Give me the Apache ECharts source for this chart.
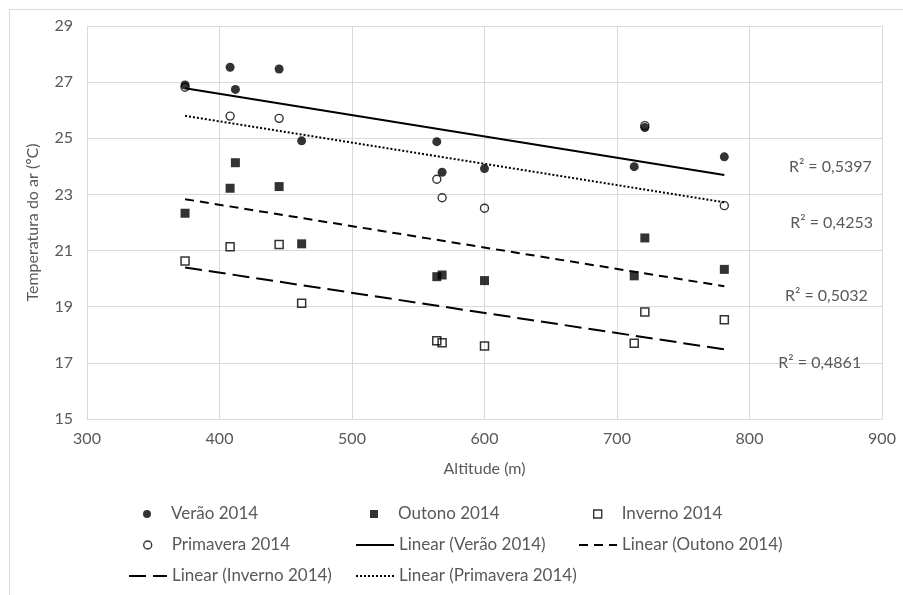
<!DOCTYPE html>
<html><head><meta charset="utf-8">
<script src="https://cdn.jsdelivr.net/npm/echarts@6/dist/echarts.min.js"></script>
<style>html,body{margin:0;padding:0;background:#fff}#c{width:903px;height:595px}</style>
</head><body><div id="c"></div>
<script>
// ---- data ----
const xTicks = [300, 400, 500, 600, 700, 800, 900];
const yTicks = [15, 17, 19, 21, 23, 25, 27, 29];

const veraoAlt  = [374, 408, 412, 445, 462, 564, 568, 600, 713, 721, 781];
const veraoTemp = [26.90, 27.53, 26.74, 27.47, 24.91, 24.88, 23.79, 23.92, 23.99, 25.38, 24.34];

const outonoAlt  = [374, 408, 412, 445, 462, 564, 568, 600, 713, 721, 781];
const outonoTemp = [22.33, 23.22, 24.13, 23.28, 21.24, 20.07, 20.13, 19.93, 20.10, 21.45, 20.33];

const invernoAlt  = [374, 408, 445, 462, 564, 568, 600, 713, 721, 781];
const invernoTemp = [20.63, 21.14, 21.22, 19.12, 17.79, 17.72, 17.60, 17.70, 18.81, 18.54];

const primaveraAlt  = [374, 408, 445, 564, 568, 600, 721, 781];
const primaveraTemp = [26.82, 25.79, 25.71, 23.54, 22.88, 22.51, 25.45, 22.60];

const trendAlt = [374, 781];
const veraoTrend = [26.78, 23.69];
const outonoTrend = [22.83, 19.73];
const invernoTrend = [20.40, 17.48];
const primaveraTrend = [25.80, 22.72];

const r2Text = ['R² = 0,5397', 'R² = 0,4253', 'R² = 0,5032', 'R² = 0,4861'];

const seriesNames = ['Verão 2014', 'Outono 2014', 'Inverno 2014', 'Primavera 2014',
  'Linear (Verão 2014)', 'Linear (Outono 2014)', 'Linear (Inverno 2014)', 'Linear (Primavera 2014)'];

// ---- build ----
const FONT = 'Lato';
const TXT = '#595959';
const GRID = '#d9d9d9';
const zip = (a, b) => a.map((v, i) => [v, b[i]]);

function r2Mark(text, coord) {
  return {
    symbol: 'circle', symbolSize: 0, silent: true,
    label: { show: true, position: 'inside', formatter: text, color: TXT, fontFamily: FONT, fontSize: 16 },
    data: [{ coord: coord }]
  };
}

const series = [
  { name: seriesNames[0], type: 'scatter', data: zip(veraoAlt, veraoTemp), symbol: 'circle', symbolSize: 9,
    itemStyle: { color: '#000' }, z: 3 },
  { name: seriesNames[1], type: 'scatter', data: zip(outonoAlt, outonoTemp), symbol: 'rect', symbolSize: 9,
    itemStyle: { color: '#000' }, z: 3 },
  { name: seriesNames[2], type: 'scatter', data: zip(invernoAlt, invernoTemp), symbol: 'rect', symbolSize: 8,
    itemStyle: { color: 'rgba(0,0,0,0)', borderColor: '#000', borderWidth: 1.5 }, z: 3 },
  { name: seriesNames[3], type: 'scatter', data: zip(primaveraAlt, primaveraTemp), symbol: 'circle', symbolSize: 8,
    itemStyle: { color: 'rgba(0,0,0,0)', borderColor: '#000', borderWidth: 1.4 }, z: 3 },
  { name: seriesNames[4], type: 'line', data: zip(trendAlt, veraoTrend), symbol: 'none',
    lineStyle: { color: '#000', width: 2, type: 'solid' }, itemStyle: { color: '#000' },
    markPoint: r2Mark(r2Text[0], [861, 23.98]) },
  { name: seriesNames[5], type: 'line', data: zip(trendAlt, outonoTrend), symbol: 'none',
    lineStyle: { color: '#000', width: 2, type: [9, 6] }, itemStyle: { color: '#000' },
    markPoint: r2Mark(r2Text[2], [858, 19.38]) },
  { name: seriesNames[6], type: 'line', data: zip(trendAlt, invernoTrend), symbol: 'none',
    lineStyle: { color: '#000', width: 2, type: [17, 7] }, itemStyle: { color: '#000' },
    markPoint: r2Mark(r2Text[3], [853, 17.0]) },
  { name: seriesNames[7], type: 'line', data: zip(trendAlt, primaveraTrend), symbol: 'none',
    lineStyle: { color: '#000', width: 2, type: [2, 2] }, itemStyle: { color: '#000' },
    markPoint: r2Mark(r2Text[1], [862, 21.98]) }
];

const IW = 38, IH = 8;
const CIRCLE = 'path://M0,0M38,8M15,4A4,4,0,1,1,23,4A4,4,0,1,1,15,4Z';
const SQUARE = 'path://M0,0M38,8M15,0H23V8H15Z';
const HOLLOW = { color: 'rgba(0,0,0,0)', borderColor: '#000', borderWidth: 1.4 };
const FILLED = { color: '#000', borderWidth: 0 };
const NODOT = { color: 'rgba(0,0,0,0)', borderColor: 'rgba(0,0,0,0)', borderWidth: 0, opacity: 0 };
const legendItems = [
  { item: { name: seriesNames[0], icon: CIRCLE, itemStyle: FILLED }, left: 128, top: 505 },
  { item: { name: seriesNames[1], icon: SQUARE, itemStyle: FILLED }, left: 355, top: 505 },
  { item: { name: seriesNames[2], icon: SQUARE, itemStyle: HOLLOW }, left: 578, top: 505 },
  { item: { name: seriesNames[3], icon: CIRCLE, itemStyle: HOLLOW }, left: 128, top: 536 },
  { item: { name: seriesNames[4], itemStyle: NODOT }, left: 355, top: 536 },
  { item: { name: seriesNames[5], itemStyle: NODOT }, left: 578, top: 536 },
  { item: { name: seriesNames[6], itemStyle: NODOT }, left: 128, top: 567 },
  { item: { name: seriesNames[7], itemStyle: NODOT }, left: 355, top: 567 }
];

const legend = legendItems.map(l => ({
  data: [l.item], left: l.left, top: l.top, padding: 0, itemWidth: IW, itemHeight: IH,
  selectedMode: false,
  textStyle: { fontFamily: FONT, fontSize: 17, color: TXT, lineHeight: 18 }
}));

const chart = echarts.init(document.getElementById('c'), null, { renderer: 'canvas' });
chart.setOption({
  animation: false,
  backgroundColor: '#fff',
  textStyle: { fontFamily: FONT },
  grid: { left: 87, right: 21, top: 26, bottom: 176 },
  graphic: [{ type: 'rect', left: 7, top: 7, silent: true,
    shape: { width: 910, height: 600 }, style: { fill: 'none', stroke: GRID, lineWidth: 1 } }],
  xAxis: {
    type: 'value', min: xTicks[0], max: xTicks[xTicks.length - 1], interval: 100,
    name: 'Altitude (m)', nameLocation: 'middle', nameGap: 42,
    nameTextStyle: { color: TXT, fontFamily: FONT, fontSize: 16 },
    axisLine: { show: true, lineStyle: { color: GRID } }, axisTick: { show: false },
    axisLabel: { color: TXT, fontFamily: FONT, fontSize: 16, margin: 12 },
    splitLine: { show: true, lineStyle: { color: GRID } }
  },
  yAxis: {
    type: 'value', min: yTicks[0], max: yTicks[yTicks.length - 1], interval: 2,
    name: 'Temperatura do ar (ºC)', nameLocation: 'middle', nameGap: 46,
    nameTextStyle: { color: TXT, fontFamily: FONT, fontSize: 16 },
    axisLine: { show: true, lineStyle: { color: GRID } }, axisTick: { show: false },
    axisLabel: { color: TXT, fontFamily: FONT, fontSize: 16, margin: 14 },
    splitLine: { show: true, lineStyle: { color: GRID } }
  },
  legend: legend,
  series: series
});
</script></body></html>
